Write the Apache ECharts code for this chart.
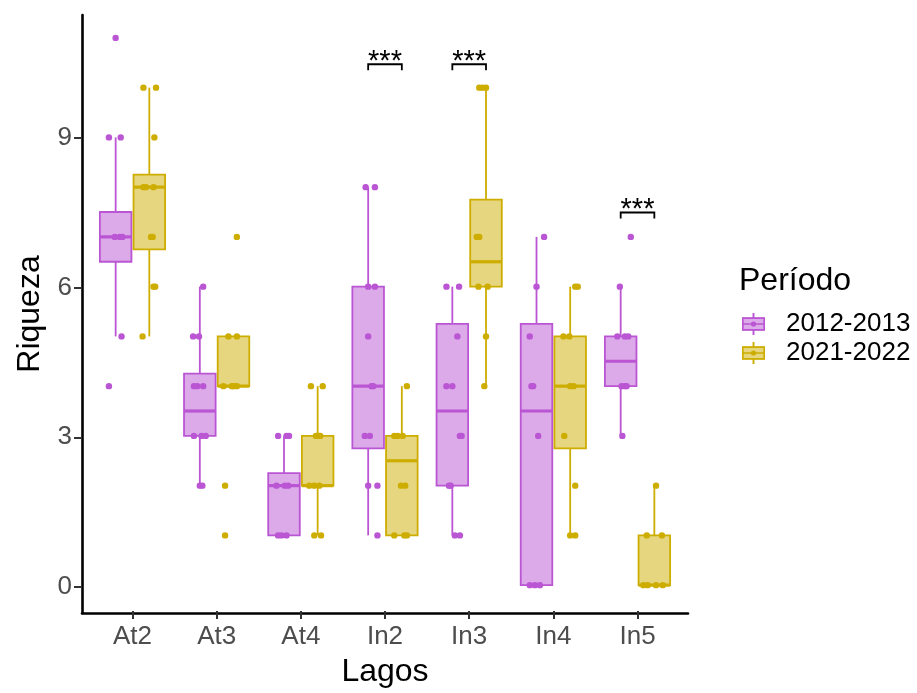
<!DOCTYPE html>
<html>
<head>
<meta charset="utf-8">
<script src="https://cdn.jsdelivr.net/npm/echarts@6/dist/echarts.min.js"></script>
<style>
html,body{margin:0;padding:0;background:#fff;}
#chart{width:917px;height:693px;}
</style>
</head>
<body>
<div id="chart"></div>
<script>
const categories = ['At2','At3','At4','In2','In3','In4','In5'];
const periods = ['2012-2013','2021-2022'];
const yTicks = [0,3,6,9];
// box stats: [lower whisker, Q1, median, Q3, upper whisker]
const box2012 = [[5,6.5,7,7.5,9],[2,3,3.5,4.25,6],[1,1,2,2.25,3],[1,2.75,4,6,8],[1,2,3.5,5.25,6],[0,0,3.5,5.25,7],[3,4,4.5,5,6]];
const box2021 = [[5,6.75,8,8.25,10],[4,4,4,5,5],[1,2,2,3,4],[1,1,2.5,3,4],[4,6,6.5,7.75,10],[1,2.75,4,5,6],[0,0,0,1,2]];
// observations: [category index, riqueza, jitter (fraction of category)]
const obs2012 = [
 [0,11,0.00],[0,9,-0.08],[0,9,0.06],[0,7,-0.01],[0,7,0.05],[0,7,0.08],[0,5,0.07],[0,4,-0.08],
 [1,6,0.04],[1,5,-0.08],[1,5,-0.01],[1,4,-0.07],[1,4,-0.03],[1,4,0.04],[1,3,-0.07],[1,3,0.02],[1,3,0.07],[1,2,0.00],[1,2,0.03],
 [2,3,-0.07],[2,3,0.03],[2,3,0.06],[2,2,-0.09],[2,2,0.01],[2,2,0.05],[2,1,-0.07],[2,1,-0.03],[2,1,0.03],
 [3,8,-0.03],[3,8,0.08],[3,6,0.00],[3,6,0.08],[3,5,0.00],[3,4,0.04],[3,4,0.06],[3,3,-0.04],[3,3,0.02],[3,2,0.00],[3,2,0.11],[3,1,0.11],
 [4,6,-0.07],[4,6,0.08],[4,5,0.06],[4,4,-0.07],[4,4,0.00],[4,3,0.09],[4,3,0.11],[4,2,-0.04],[4,2,-0.02],[4,1,0.03],[4,1,0.09],
 [5,7,0.09],[5,6,0.00],[5,5,-0.08],[5,4,-0.06],[5,4,-0.04],[5,3,0.02],[5,0,-0.08],[5,0,-0.02],[5,0,0.04],
 [6,7,0.12],[6,6,-0.01],[6,5,-0.04],[6,5,0.05],[6,5,0.09],[6,4,0.01],[6,4,0.05],[6,4,0.07],[6,3,0.02]
];
const obs2021 = [
 [0,10,-0.07],[0,10,0.08],[0,9,0.06],[0,8,-0.07],[0,8,-0.04],[0,8,0.05],[0,7,0.02],[0,7,0.04],[0,6,0.05],[0,6,0.07],[0,5,-0.08],
 [1,7,0.04],[1,5,-0.06],[1,5,0.04],[1,4,-0.12],[1,4,-0.02],[1,4,0.00],[1,4,0.04],[1,2,-0.10],[1,1,-0.10],
 [2,4,-0.08],[2,4,0.06],[2,3,-0.02],[2,3,0.02],[2,3,0.03],[2,2,-0.10],[2,2,-0.04],[2,2,0.02],[2,1,-0.04],[2,1,0.04],
 [3,4,0.06],[3,3,-0.09],[3,3,-0.05],[3,3,0.01],[3,2,-0.01],[3,2,0.04],[3,1,-0.09],[3,1,0.03],[3,1,0.06],
 [4,10,-0.08],[4,10,-0.04],[4,10,0.00],[4,7,-0.11],[4,7,-0.08],[4,6,-0.09],[4,6,0.02],[4,5,0.00],[4,4,-0.02],
 [5,6,0.06],[5,6,0.09],[5,5,-0.08],[5,5,-0.01],[5,4,0.00],[5,4,0.04],[5,3,-0.07],[5,2,0.06],[5,1,0.00],[5,1,0.06],
 [6,2,0.02],[6,1,-0.09],[6,1,0.09],[6,0,-0.13],[6,0,-0.08],[6,0,0.02],[6,0,0.10]
];
// significance brackets
const sigCats = [3,4,6];
const sigY = [10.47,10.47,7.49];
const sigLabels = ['***','***','***'];

const FONT = '"Liberation Sans", Arial, sans-serif';
const strokeCols = ['#BA55D3','#CDAD00'];
const fillCols = ['rgba(186,85,211,0.5)','rgba(205,173,0,0.5)'];
const dodges = [-0.2, 0.2];
const boxFrac = 0.375;
const yMin = -0.52, yMax = 11.46;

function boxRenderer(k){
  return function(params, api){
    const cat = api.value(0);
    const band = api.size([1,0])[0];
    const cx = api.coord([cat,0])[0] + dodges[k]*band;
    const hw = boxFrac*band/2;
    const Y = v => api.coord([cat,v])[1];
    const y0=Y(api.value(1)), y1=Y(api.value(2)), ym=Y(api.value(3)), y3=Y(api.value(4)), y4=Y(api.value(5));
    const s = strokeCols[k];
    return {type:'group', children:[
      {type:'line', shape:{x1:cx,y1:y3,x2:cx,y2:y4}, style:{stroke:s,lineWidth:1.8}},
      {type:'line', shape:{x1:cx,y1:y1,x2:cx,y2:y0}, style:{stroke:s,lineWidth:1.8}},
      {type:'rect', shape:{x:cx-hw,y:y3,width:2*hw,height:Math.max(y1-y3,0.01)}, style:{fill:fillCols[k],stroke:s,lineWidth:1.8}},
      {type:'line', shape:{x1:cx-hw,y1:ym,x2:cx+hw,y2:ym}, style:{stroke:s,lineWidth:3.2}}
    ]};
  };
}
function pointRenderer(k){
  return function(params, api){
    const cat = api.value(0);
    const band = api.size([1,0])[0];
    const p = api.coord([cat, api.value(1)]);
    const x = p[0] + (dodges[k] + api.value(2))*band;
    return {type:'circle', shape:{cx:x, cy:p[1], r:3.2}, style:{fill:strokeCols[k]}};
  };
}
function sigRenderer(params, api){
  const cat = api.value(0);
  const band = api.size([1,0])[0];
  const p = api.coord([cat, api.value(1)]);
  const tip = api.coord([cat, api.value(1)-0.12])[1];
  const xl = p[0] + dodges[0]*band, xr = p[0] + dodges[1]*band;
  return {type:'group', children:[
    {type:'polyline', shape:{points:[[xl,tip],[xl,p[1]],[xr,p[1]],[xr,tip]]}, style:{stroke:'#000',lineWidth:1.8,fill:null}},
    {type:'text', x:p[0], y:p[1]+12, style:{text:sigLabels[params.dataIndex], font:'29px '+FONT, fill:'#000', align:'center', verticalAlign:'bottom'}}
  ]};
}

const overIcon = 'path://M0 4H22V17H0Z M1.6 5.6V15.4H20.4V5.6Z M0 9.7H22V11.3H0Z M10.2 0H11.8V4H10.2Z M10.2 17H11.8V21H10.2Z M13.5 10.5A2.5 2.5 0 1 1 8.5 10.5A2.5 2.5 0 1 1 13.5 10.5Z';
const underIcon = 'path://M0 4H22V17H0Z M10.2 0H11.8V21H10.2Z';

const legendBase = {
  orient:'vertical', left:737, top:306, itemWidth:23, itemHeight:22, itemGap:3,
  selectedMode:false, padding:5
};

const chart = echarts.init(document.getElementById('chart'), null, {renderer:'canvas'});
chart.setOption({
  animation:false,
  backgroundColor:'#fff',
  title:{text:'Período', left:734, top:260, padding:5,
    textStyle:{fontFamily:FONT, fontSize:32, fontWeight:'normal', color:'#000'}},
  legend:[
    Object.assign({}, legendBase, {
      data: periods.map((n,k)=>({name:n, icon:underIcon, itemStyle:{color:fillCols[k], borderWidth:0, opacity:1}})),
      textStyle:{fontFamily:FONT, fontSize:26, color:'rgba(0,0,0,0)', padding:[0,0,0,16]}
    }),
    Object.assign({}, legendBase, {
      data: periods.map((n,k)=>({name:n, icon:overIcon, itemStyle:{color:strokeCols[k], borderWidth:0, opacity:1}})),
      textStyle:{fontFamily:FONT, fontSize:26, color:'#000', padding:[0,0,0,16]}
    })
  ],
  grid:[
    {left:90.4, right:237.4, top:15, bottom:80},
    {left:82, right:229, top:15, bottom:80}
  ],
  xAxis:[
    {type:'category', gridIndex:0, data:categories, boundaryGap:true,
     axisLine:{show:false, onZero:false},
     axisTick:{show:true, alignWithLabel:true, length:8, lineStyle:{color:'#333', width:2}},
     axisLabel:{fontFamily:FONT, fontSize:26, color:'#4D4D4D', margin:13},
     name:'Lagos', nameLocation:'middle', nameGap:45,
     nameTextStyle:{fontFamily:FONT, fontSize:32, color:'#000'},
     splitLine:{show:false}},
    {type:'value', gridIndex:1, min:0, max:1,
     axisLine:{show:true, onZero:false, lineStyle:{color:'#000', width:2.6}},
     axisTick:{show:false}, axisLabel:{show:false}, splitLine:{show:false}}
  ],
  yAxis:[
    {type:'value', gridIndex:0, min:yMin, max:yMax, show:false, splitLine:{show:false}},
    {type:'value', gridIndex:1, min:yMin, max:yMax,
     axisLine:{show:true, onZero:false, lineStyle:{color:'#000', width:2.6}},
     axisTick:{show:true, length:8, lineStyle:{color:'#333', width:2}, customValues:yTicks},
     axisLabel:{fontFamily:FONT, fontSize:26, color:'#4D4D4D', margin:10, customValues:yTicks},
     splitLine:{show:false},
     name:'Riqueza', nameLocation:'middle', nameGap:27, nameRotate:90,
     nameTextStyle:{fontFamily:FONT, fontSize:32, color:'#000'}}
  ],
  series:[
    {type:'custom', name:periods[0], xAxisIndex:0, yAxisIndex:0, renderItem:boxRenderer(0),
     itemStyle:{color:strokeCols[0]}, encode:{x:0, y:[1,5]},
     data: box2012.map((b,i)=>[i].concat(b)), z:2},
    {type:'custom', name:periods[1], xAxisIndex:0, yAxisIndex:0, renderItem:boxRenderer(1),
     itemStyle:{color:strokeCols[1]}, encode:{x:0, y:[1,5]},
     data: box2021.map((b,i)=>[i].concat(b)), z:2},
    {type:'custom', name:periods[0], xAxisIndex:0, yAxisIndex:0, renderItem:pointRenderer(0),
     itemStyle:{color:strokeCols[0]}, encode:{x:0, y:1}, data: obs2012, z:3},
    {type:'custom', name:periods[1], xAxisIndex:0, yAxisIndex:0, renderItem:pointRenderer(1),
     itemStyle:{color:strokeCols[1]}, encode:{x:0, y:1}, data: obs2021, z:3},
    {type:'custom', name:'sig', xAxisIndex:0, yAxisIndex:0, renderItem:sigRenderer,
     encode:{x:0, y:1}, data: sigCats.map((c,i)=>[c, sigY[i]]), z:4}
  ]
});
</script>
</body>
</html>
